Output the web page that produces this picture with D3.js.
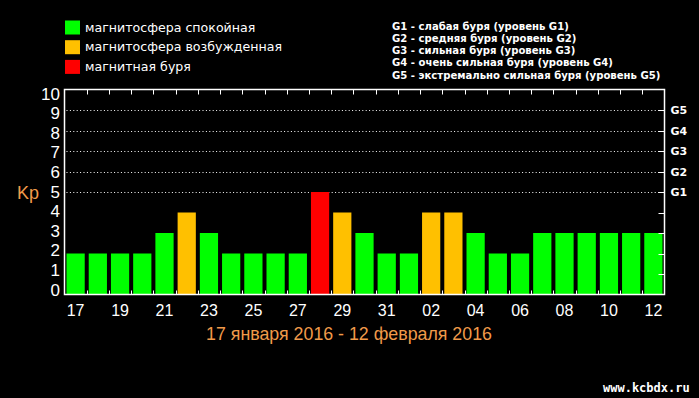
<!DOCTYPE html>
<html lang="ru">
<head>
    <meta charset="UTF-8">
    <script src="https://d3js.org/d3.v7.min.js"></script>
    <title>Kp</title>
    <style>
        body { margin: 0; background: #000; }
    </style>
</head>
<body>
    <svg id="svg1" width="699" height="398"></svg>

    <script>
        // data
        const days = ["17","18","19","20","21","22","23","24","25","26","27","28","29","30","31",
                      "01","02","03","04","05","06","07","08","09","10","11","12"];
        const kpValues = [2,2,2,2,3,4,3,2,2,2,2,5,4,3,2,2,4,4,3,2,2,3,3,3,3,3,3];
        const dayLabels = ["17","19","21","23","25","27","29","31","02","04","06","08","10","12"];
        const kpTicks = [0,1,2,3,4,5,6,7,8,9,10];
        const gLevels = ["G1","G2","G3","G4","G5"];
        const legendLeft = ["магнитосфера спокойная","магнитосфера возбужденная","магнитная буря"];
        const legendColors = ["#00ff00","#ffc000","#ff0000"];
        const legendRight = [
            "G1 - слабая буря (уровень G1)",
            "G2 - средняя буря (уровень G2)",
            "G3 - сильная буря (уровень G3)",
            "G4 - очень сильная буря (уровень G4)",
            "G5 - экстремально сильная буря (уровень G5)"
        ];
        const title = "17 января 2016 - 12 февраля 2016";

        const svg1 = d3.select("svg#svg1");
        const width = +svg1.attr("width");
        const height = +svg1.attr("height");
        const plot = {left: 64.5, right: 664.5, top: 89.5, bottom: 294.5};
        const orange = "#f09a4a";

        svg1.append("rect").attr("width", width).attr("height", height).attr("fill", "#000");

        const xScale = d3.scaleBand().domain(days)
                         .range([plot.left, plot.right])
                         .paddingInner(0.18).paddingOuter(0.09);
        const yScale = d3.scaleLinear().domain([0, 10]).range([plot.bottom, plot.top]);
        // labels on the left sit slightly inside the frame
        const labelScale = d3.scaleLinear().domain([0, 10]).range([289.5, 93.5]);

        const colorOf = v => v >= 5 ? legendColors[2] : (v >= 4 ? legendColors[1] : legendColors[0]);

        let grid = svg1.append("g").attr("id", "grid");
        let bars = svg1.append("g").attr("id", "bars");
        let annotations = svg1.append("g").attr("id", "annotations");

        // dotted lines for storm levels
        grid.selectAll("line.dot")
            .data([5,6,7,8,9])
            .join("line")
            .attr("x1", plot.left + 2)
            .attr("x2", plot.right - 5)
            .attr("y1", d => Math.round(yScale(d)) + 0.5)
            .attr("y2", d => Math.round(yScale(d)) + 0.5)
            .attr("stroke", "#fff")
            .attr("stroke-width", 1)
            .attr("stroke-dasharray", "1,2.4");

        // bars
        bars.selectAll("rect")
            .data(kpValues)
            .join("rect")
            .attr("x", (d, i) => xScale(days[i]))
            .attr("width", xScale.bandwidth())
            .attr("y", d => yScale(d))
            .attr("height", d => yScale(0) - yScale(d))
            .attr("fill", d => colorOf(d));

        // frame
        annotations.append("rect")
            .attr("x", plot.left).attr("y", plot.top)
            .attr("width", plot.right - plot.left)
            .attr("height", plot.bottom - plot.top)
            .attr("fill", "none")
            .attr("stroke", "#fff")
            .attr("stroke-width", 1.5);

        // ticks between days, top and bottom
        const bounds = days.slice(1).map(d => xScale(d) - xScale.step() * xScale.paddingInner() / 2);
        annotations.selectAll("line.ttop")
            .data(bounds)
            .join("line")
            .attr("x1", d => Math.round(d) + 0.5).attr("x2", d => Math.round(d) + 0.5)
            .attr("y1", plot.top).attr("y2", plot.top + 5)
            .attr("stroke", "#fff");
        annotations.selectAll("line.tbot")
            .data(bounds)
            .join("line")
            .attr("x1", d => Math.round(d) + 0.5).attr("x2", d => Math.round(d) + 0.5)
            .attr("y1", plot.bottom).attr("y2", plot.bottom - 4)
            .attr("stroke", "#fff");

        // right ticks
        annotations.selectAll("line.tright")
            .data(kpTicks.slice(1, 10))
            .join("line")
            .attr("x1", plot.right - 6).attr("x2", plot.right)
            .attr("y1", d => Math.round(yScale(d)) + 0.5)
            .attr("y2", d => Math.round(yScale(d)) + 0.5)
            .attr("stroke", "#fff");

        // left axis labels
        annotations.selectAll("text.kp")
            .data(kpTicks)
            .join("text")
            .attr("x", 60)
            .attr("y", d => labelScale(d))
            .attr("dy", "0.36em")
            .attr("text-anchor", "end")
            .attr("fill", "#fff")
            .style("font-family", "Liberation Sans")
            .style("font-size", "17px")
            .text(d => d);

        // storm level labels on the right
        annotations.selectAll("text.g")
            .data(gLevels)
            .join("text")
            .attr("x", 670.5)
            .attr("y", (d, i) => yScale(i + 5))
            .attr("dy", "0.38em")
            .attr("fill", "#fff")
            .style("font-family", "DejaVu Sans")
            .style("font-weight", "bold")
            .style("font-size", "11px")
            .text(d => d);

        // x labels every second day
        annotations.selectAll("text.day")
            .data(dayLabels)
            .join("text")
            .attr("x", d => xScale(d) + xScale.bandwidth() / 2)
            .attr("y", 316)
            .attr("text-anchor", "middle")
            .attr("fill", "#fff")
            .style("font-family", "Liberation Sans")
            .style("font-size", "16px")
            .text(d => d);

        // Kp label
        svg1.append("text")
            .attr("x", 17).attr("y", 199)
            .attr("fill", orange)
            .style("font-family", "Liberation Sans")
            .style("font-size", "18px")
            .text("Kp");

        // period title
        svg1.append("text")
            .attr("x", 349).attr("y", 340)
            .attr("text-anchor", "middle")
            .attr("fill", orange)
            .style("font-family", "Liberation Sans")
            .style("font-size", "17.8px")
            .text(title);

        // legend, left part
        legendLeft.forEach((t, i) => {
            svg1.append("rect")
                .attr("x", 65).attr("y", 20.5 + i * 19.7)
                .attr("width", 15).attr("height", 14)
                .attr("fill", legendColors[i]);
            svg1.append("text")
                .attr("x", 85).attr("y", 31.5 + i * 19.8)
                .attr("fill", "#fff")
                .style("font-family", "DejaVu Sans")
                .style("font-size", "12.6px")
                .text(t);
        });

        // legend, storm levels
        legendRight.forEach((t, i) => {
            svg1.append("text")
                .attr("x", 392).attr("y", 29.5 + i * 12.3)
                .attr("fill", "#fff")
                .style("font-family", "DejaVu Sans")
                .style("font-weight", "bold")
                .style("font-size", "10.1px")
                .text(t);
        });

        // site mark
        svg1.append("text")
            .attr("x", 603).attr("y", 392)
            .attr("fill", "#fff")
            .style("font-family", "DejaVu Sans Mono")
            .style("font-weight", "bold")
            .style("font-size", "12px")
            .text("www.kcbdx.ru");
    </script>
</body>
</html>
